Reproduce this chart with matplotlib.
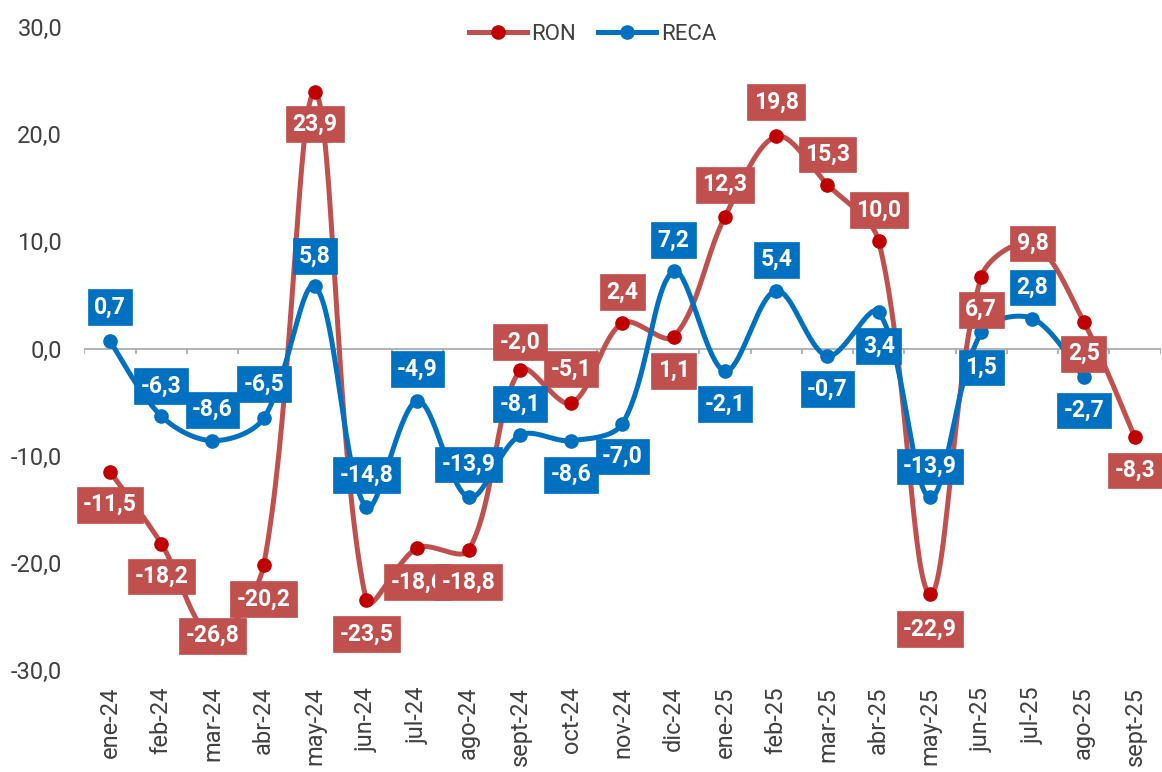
import numpy as np
import matplotlib
matplotlib.use("Agg")
import matplotlib.pyplot as plt
from matplotlib.lines import Line2D
from matplotlib.ticker import FuncFormatter

plt.rcParams['font.family'] = ['Roboto', 'DejaVu Sans']

### DATA
months = ["ene-24", "feb-24", "mar-24", "abr-24", "may-24", "jun-24", "jul-24",
          "ago-24", "sept-24", "oct-24", "nov-24", "dic-24", "ene-25", "feb-25",
          "mar-25", "abr-25", "may-25", "jun-25", "jul-25", "ago-25", "sept-25"]
ron = [-11.5, -18.2, -26.8, -20.2, 23.9, -23.5, -18.6, -18.8, -2.0, -5.1, 2.4,
       1.1, 12.3, 19.8, 15.3, 10.0, -22.9, 6.7, 9.8, 2.5, -8.3]
reca = [0.7, -6.3, -8.6, -6.5, 5.8, -14.8, -4.9, -13.9, -8.1, -8.6, -7.0,
        7.2, -2.1, 5.4, -0.7, 3.4, -13.9, 1.5, 2.8, -2.7]

# vertical offset of each data label from its point [px, up positive]
ron_lbl_dy = [-33, -33, 0, -34, -32, -34, -34, -32, 28, 34, 31,
              -34, 32, 34, 30, 31, -35, -33, 0, -32, -33]
reca_lbl_dy = [34, 30, 31, 34, 30, 32, 32, 33, 31, -34, -33,
               31, -33, 31, -33, -34, 31, -35, 31, -33]

RON_LINE, RON_MARK = "#C0504D", "#C00000"
RECA_LINE, RECA_MARK = "#0070C0", "#0070C0"

YPX = 10.72 / 51.3  # y unit vs x unit on screen, for chord lengths


def smooth(vals, n=40):
    """Bezier through the points with chord-weighted tangents (close to Excel smoothing)."""
    pts = np.column_stack([np.arange(len(vals)), vals]).astype(float)
    scr = pts * [1.0, YPX]
    padded = np.vstack([pts[0], pts, pts[-1]])
    pscr = np.vstack([scr[0], scr, scr[-1]])
    t = np.linspace(0, 1, n)[:, None]
    segs = []
    for i in range(len(pts) - 1):
        p0, p1, p2, p3 = padded[i], padded[i + 1], padded[i + 2], padded[i + 3]
        s0, s1, s2, s3 = pscr[i], pscr[i + 1], pscr[i + 2], pscr[i + 3]
        d01 = np.hypot(*(s1 - s0))
        d12 = np.hypot(*(s2 - s1))
        d23 = np.hypot(*(s3 - s2))
        w1 = d12 / (d01 + d12) if d01 > 0 else 0.5
        w2 = d12 / (d12 + d23) if d23 > 0 else 0.5
        c1 = p1 + (p2 - p0) * w1 / 3
        c2 = p2 - (p3 - p1) * w2 / 3
        segs.append((1 - t) ** 3 * p1 + 3 * (1 - t) ** 2 * t * c1
                    + 3 * (1 - t) * t ** 2 * c2 + t ** 3 * p2)
    return np.vstack(segs)


def fmt(v):
    return f"{v:.1f}".replace(".", ",")


fig = plt.figure(figsize=(11.62, 7.72), dpi=100)
ax = fig.add_axes([0.0726, 0.1321, 0.9262, 0.8329])

for vals, lc, mc, z in ((ron, RON_LINE, RON_MARK, 2), (reca, RECA_LINE, RECA_MARK, 3)):
    curve = smooth(vals)
    ax.plot(curve[:, 0], curve[:, 1], color=lc, lw=3.6, zorder=z, solid_capstyle='round')
    ax.plot(np.arange(len(vals)), vals, 'o', color=mc, ms=9.5, zorder=z + 0.5)

# data labels
for vals, dys, col, z in ((ron, ron_lbl_dy, RON_LINE, 5), (reca, reca_lbl_dy, RECA_LINE, 6)):
    for i, (v, dy) in enumerate(zip(vals, dys)):
        ax.annotate(fmt(v), (i, v), xytext=(0, dy), textcoords='offset pixels',
                    ha='center', va='center', color='white', fontsize=16.5,
                    fontweight='bold', zorder=z,
                    bbox=dict(boxstyle='square,pad=0.28', fc=col, ec=col, lw=0.5))

# axes styling
ax.set_xlim(-0.5, len(months) - 0.5)
ax.set_ylim(-30, 30)
ax.set_yticks(np.arange(-30, 31, 10))
ax.yaxis.set_major_formatter(FuncFormatter(lambda v, p: fmt(v)))
ax.set_xticks(np.arange(len(months)))
ax.set_xticklabels(months, rotation=90)
ax.tick_params(axis='both', length=0, labelsize=17, colors='#404040')
ax.tick_params(axis='y', pad=16)
ax.tick_params(axis='x', pad=12)
for s in ax.spines.values():
    s.set_visible(False)

# zero axis line with category boundary ticks
ax.axhline(0, color='#A6A6A6', lw=1.2, zorder=1)
ax.vlines(np.arange(len(months) + 1) - 0.5, -0.5, 0, color='#A6A6A6', lw=1.2, zorder=1)

handles = [Line2D([], [], color=RON_LINE, lw=3.6, marker='o', ms=9.5,
                  mfc=RON_MARK, mec=RON_MARK),
           Line2D([], [], color=RECA_LINE, lw=3.6, marker='o', ms=9.5,
                  mfc=RECA_MARK, mec=RECA_MARK)]
fig.legend(handles, ["RON", "RECA"], loc='center', bbox_to_anchor=(0.51, 0.955),
           ncol=2, frameon=False, fontsize=16, handlelength=2.6,
           columnspacing=1.0, handletextpad=0.2, labelcolor='#404040')

fig.savefig("out.png", dpi=100)
